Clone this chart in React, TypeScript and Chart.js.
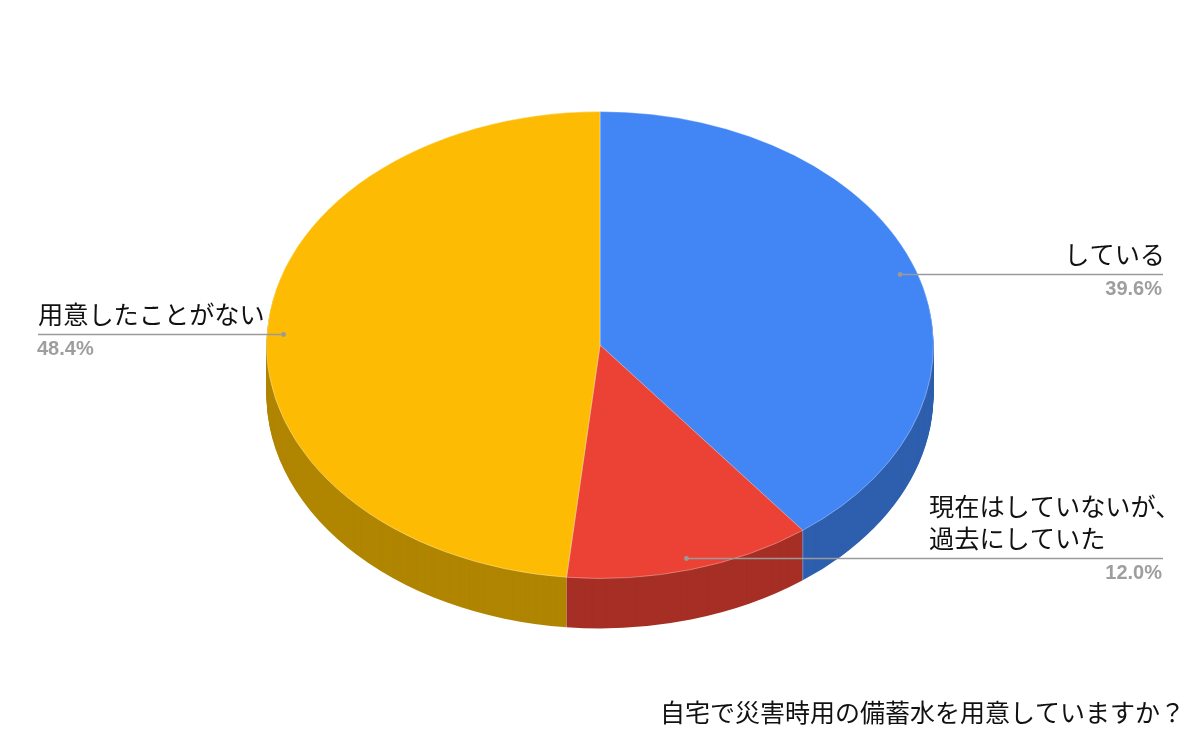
import { useEffect, useRef } from 'react'
import { Chart, registerables, Plugin } from 'chart.js'

Chart.register(...registerables)

const titleText = '自宅で災害時用の備蓄水を用意していますか？'
const categories = ['している', '現在はしていないが、\n過去にしていた', '用意したことがない']
const shares = [39.6, 12.0, 48.4]
const topColors = ['#4285f4', '#ec4235', '#fdbb04']
const wallColors = ['#2e5fae', '#a62f25', '#b08500']

const FONT_JP = '"Noto Sans CJK JP", "Noto Sans", sans-serif'
const SQUASH = 0.7
const DEPTH = 50
// wedges nearest the viewer go last so their walls stay on top
const wallOrder = [0, 2, 1]
// where each label block sits, the line runs from the slice to lineEnd
const labelLayout = [
  { textX: 1165, align: 'right', lineEnd: 1163, percentAlign: 'right' },
  { textX: 929, align: 'left', lineEnd: 1163, percentAlign: 'right' },
  { textX: 38, align: 'left', lineEnd: 38, percentAlign: 'left' },
] as const

function squash(ctx: CanvasRenderingContext2D, cy: number, shift: number) {
  ctx.translate(0, cy + shift)
  ctx.scale(1, SQUASH)
  ctx.translate(0, -cy)
}

const pie3d: Plugin<'pie'> = {
  id: 'pie3d',
  beforeDatasetsDraw(chart) {
    const ctx = chart.ctx
    const arcs = chart.getDatasetMeta(0).data as any[]
    const cy = arcs[0].y

    // side wall: the same wedges stacked downwards in a darker colour
    wallOrder.forEach((i) => {
      const arc = arcs[i]
      const saved = arc.options
      arc.options = { ...saved, backgroundColor: wallColors[i], borderWidth: 0 }
      for (let k = DEPTH; k >= 1; k--) {
        ctx.save()
        squash(ctx, cy, k)
        arc.draw(ctx)
        ctx.restore()
      }
      arc.options = saved
    })

    // faint seams where two wedges meet on the front of the wall
    ctx.save()
    ctx.strokeStyle = 'rgba(255,255,255,0.3)'
    ctx.lineWidth = 1
    arcs.forEach((arc) => {
      if (Math.sin(arc.endAngle) <= 0) return
      const x = arc.x + Math.cos(arc.endAngle) * arc.outerRadius
      const y = cy + Math.sin(arc.endAngle) * arc.outerRadius * SQUASH
      ctx.beginPath()
      ctx.moveTo(x, y)
      ctx.lineTo(x, y + DEPTH)
      ctx.stroke()
    })
    ctx.restore()

    ctx.save()
    squash(ctx, cy, 0)
  },
  afterDatasetsDraw(chart) {
    const ctx = chart.ctx
    ctx.restore()

    const arcs = chart.getDatasetMeta(0).data as any[]
    arcs.forEach((arc, i) => {
      const mid = (arc.startAngle + arc.endAngle) / 2
      const ax = arc.x + Math.cos(mid) * arc.outerRadius * 0.95
      const ay = Math.round(arc.y + Math.sin(mid) * arc.outerRadius * 0.95 * SQUASH)
      const spot = labelLayout[i]

      ctx.save()
      ctx.strokeStyle = '#9a9a9a'
      ctx.fillStyle = '#9a9a9a'
      ctx.lineWidth = 1.4
      ctx.beginPath()
      ctx.moveTo(ax, ay + 0.5)
      ctx.lineTo(spot.lineEnd, ay + 0.5)
      ctx.stroke()
      ctx.beginPath()
      ctx.arc(ax, ay + 0.5, 2.4, 0, Math.PI * 2)
      ctx.fill()

      const lines = categories[i].split('\n')
      ctx.fillStyle = '#111111'
      ctx.font = `25.2px ${FONT_JP}`
      ctx.textAlign = spot.align
      ctx.textBaseline = 'alphabetic'
      lines.forEach((line, n) => {
        ctx.fillText(line, spot.textX, ay - 10 - (lines.length - 1 - n) * 32)
      })

      ctx.fillStyle = '#9e9e9e'
      ctx.font = 'bold 20px "Liberation Sans", Arial, sans-serif'
      ctx.textAlign = spot.percentAlign
      ctx.fillText(`${shares[i].toFixed(1)}%`, spot.lineEnd - 1, ay + 21)
      ctx.restore()
    })
  },
}

export default function App() {
  const chartRef = useRef<HTMLCanvasElement>(null)

  useEffect(() => {
    document.body.style.margin = '0'
    document.body.style.background = '#ffffff'
    if (!chartRef.current) return

    const chart = new Chart(chartRef.current, {
      type: 'pie',
      data: {
        labels: categories,
        datasets: [
          {
            data: shares,
            backgroundColor: topColors,
            borderColor: 'rgba(255,255,255,0.4)',
            borderWidth: 1,
          },
        ],
      },
      options: {
        responsive: false,
        animation: false,
        layout: { padding: { top: 11, bottom: 14, left: 15, right: 15 } },
        plugins: {
          legend: { display: false },
          tooltip: { enabled: false },
          title: {
            display: true,
            text: titleText,
            position: 'bottom',
            align: 'end',
            color: '#111111',
            font: { family: FONT_JP, size: 25, weight: 'normal', lineHeight: 1.2 },
            padding: { top: 18, bottom: 0 },
          },
        },
      },
      plugins: [pie3d],
    })

    return () => chart.destroy()
  }, [])

  return <canvas ref={chartRef} width={1200} height={741} style={{ display: 'block' }} />
}
